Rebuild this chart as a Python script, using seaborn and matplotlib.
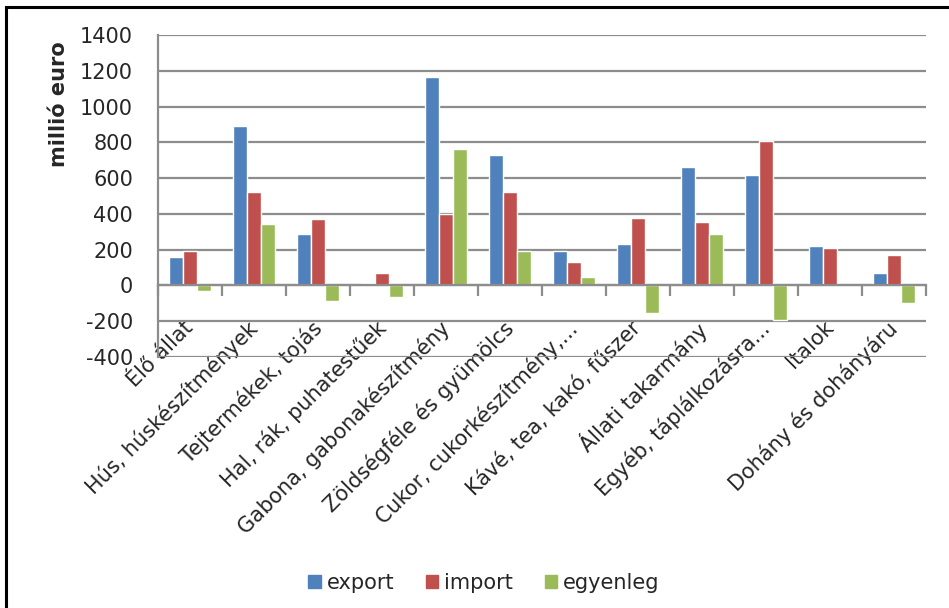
import matplotlib
matplotlib.use("Agg")
import matplotlib.pyplot as plt
import matplotlib.patches as mpatches
import matplotlib.transforms as mtransforms
from matplotlib.ticker import FixedLocator
import seaborn as sns
import pandas as pd

sns.set_theme(style="white")
plt.rcParams["font.family"] = ["DejaVu Sans"]

# ---------------------------------------------------------------
# data (millió euro)
# ---------------------------------------------------------------

categories = [
    "Élő állat",
    "Hús, húskészítmények",
    "Tejtermékek, tojás",
    "Hal, rák, puhatestűek",
    "Gabona, gabonakészítmény",
    "Zöldségféle és gyümölcs",
    "Cukor, cukorkészítmény,...",
    "Kávé, tea, kakó, fűszer",
    "Állati takarmány",
    "Egyéb, táplálkozásra...",
    "Italok",
    "Dohány és dohányáru",
]

export_values = [160, 890, 290, 15, 1165, 730, 190, 230, 665, 620, 220, 70]
import_values = [190, 525, 370, 70, 400, 525, 130, 375, 355, 810, 210, 170]
balance_values = [-30, 345, -85, -65, 765, 195, 45, -155, 290, -195, 0, -100]

series_names = ["export", "import", "egyenleg"]
colors = ["#4F81BD", "#C0504D", "#9BBB59"]

y_ticks = list(range(-400, 1401, 200))

df = pd.DataFrame({
    "kategoria": categories * 3,
    "ertek": export_values + import_values + balance_values,
    "sor": [s for s in series_names for _ in categories],
})

# ---------------------------------------------------------------
# figure
# ---------------------------------------------------------------

fig = plt.figure(figsize=(9.49, 6.08), dpi=100)
ax = fig.add_axes([0.1665, 0.4128, 0.8093, 0.5296])

sns.barplot(
    data=df,
    x="kategoria",
    y="ertek",
    hue="sor",
    palette=colors,
    width=0.66,
    saturation=1,
    errorbar=None,
    ax=ax,
    legend=False,
)

ax.set_ylim(-400, 1400)
ax.set_xlim(-0.5, len(categories) - 0.5)
ax.set_yticks(y_ticks)
ax.set_yticklabels([str(v) for v in y_ticks], fontsize=15)
ax.tick_params(axis="y", length=0, pad=18)

ax.yaxis.grid(True, color="#8c8c8c", linewidth=1.6)
ax.set_axisbelow(True)

for side in ["top", "right"]:
    ax.spines[side].set_visible(False)
ax.spines["left"].set_color("#8c8c8c")
ax.spines["left"].set_linewidth(1.6)
ax.spines["bottom"].set_position(("data", 0))
ax.spines["bottom"].set_color("#8c8c8c")
ax.spines["bottom"].set_linewidth(1.6)

# category labels, rotated, hanging from the zero line
ax.set_xticks(range(len(categories)))
ax.set_xticklabels(
    categories,
    rotation=45,
    ha="right",
    rotation_mode="anchor",
    fontsize=15,
)
ax.tick_params(axis="x", which="major", length=0, pad=23)
shift = mtransforms.ScaledTranslation(-7 / 100, 0, fig.dpi_scale_trans)
for lbl in ax.get_xticklabels():
    lbl.set_transform(lbl.get_transform() + shift)

ax.xaxis.set_minor_locator(FixedLocator([i + 0.5 for i in range(-1, len(categories))]))
ax.tick_params(axis="x", which="minor", length=8, width=1.6, color="#8c8c8c",
               direction="out", bottom=True)

ax.set_xlabel("")
ax.set_ylabel("millió euro", fontsize=15, fontweight="bold")
ax.yaxis.set_label_coords(-0.116, 0.785)

# legend
handles = [mpatches.Patch(color=c, label=s) for c, s in zip(colors, series_names)]
fig.legend(
    handles=handles,
    loc="center",
    bbox_to_anchor=(0.51, 0.041),
    ncol=3,
    frameon=False,
    fontsize=15,
    handlelength=0.6,
    handleheight=0.6,
    handletextpad=0.3,
    columnspacing=1.5,
)

# outer frame
fig.add_artist(mpatches.Rectangle(
    (6 / 949, -0.05), 1.1, 1 - 7 / 608 + 0.05,
    transform=fig.transFigure, fill=False, edgecolor="black", linewidth=2.2,
))

fig.savefig("out.png", dpi=100)
